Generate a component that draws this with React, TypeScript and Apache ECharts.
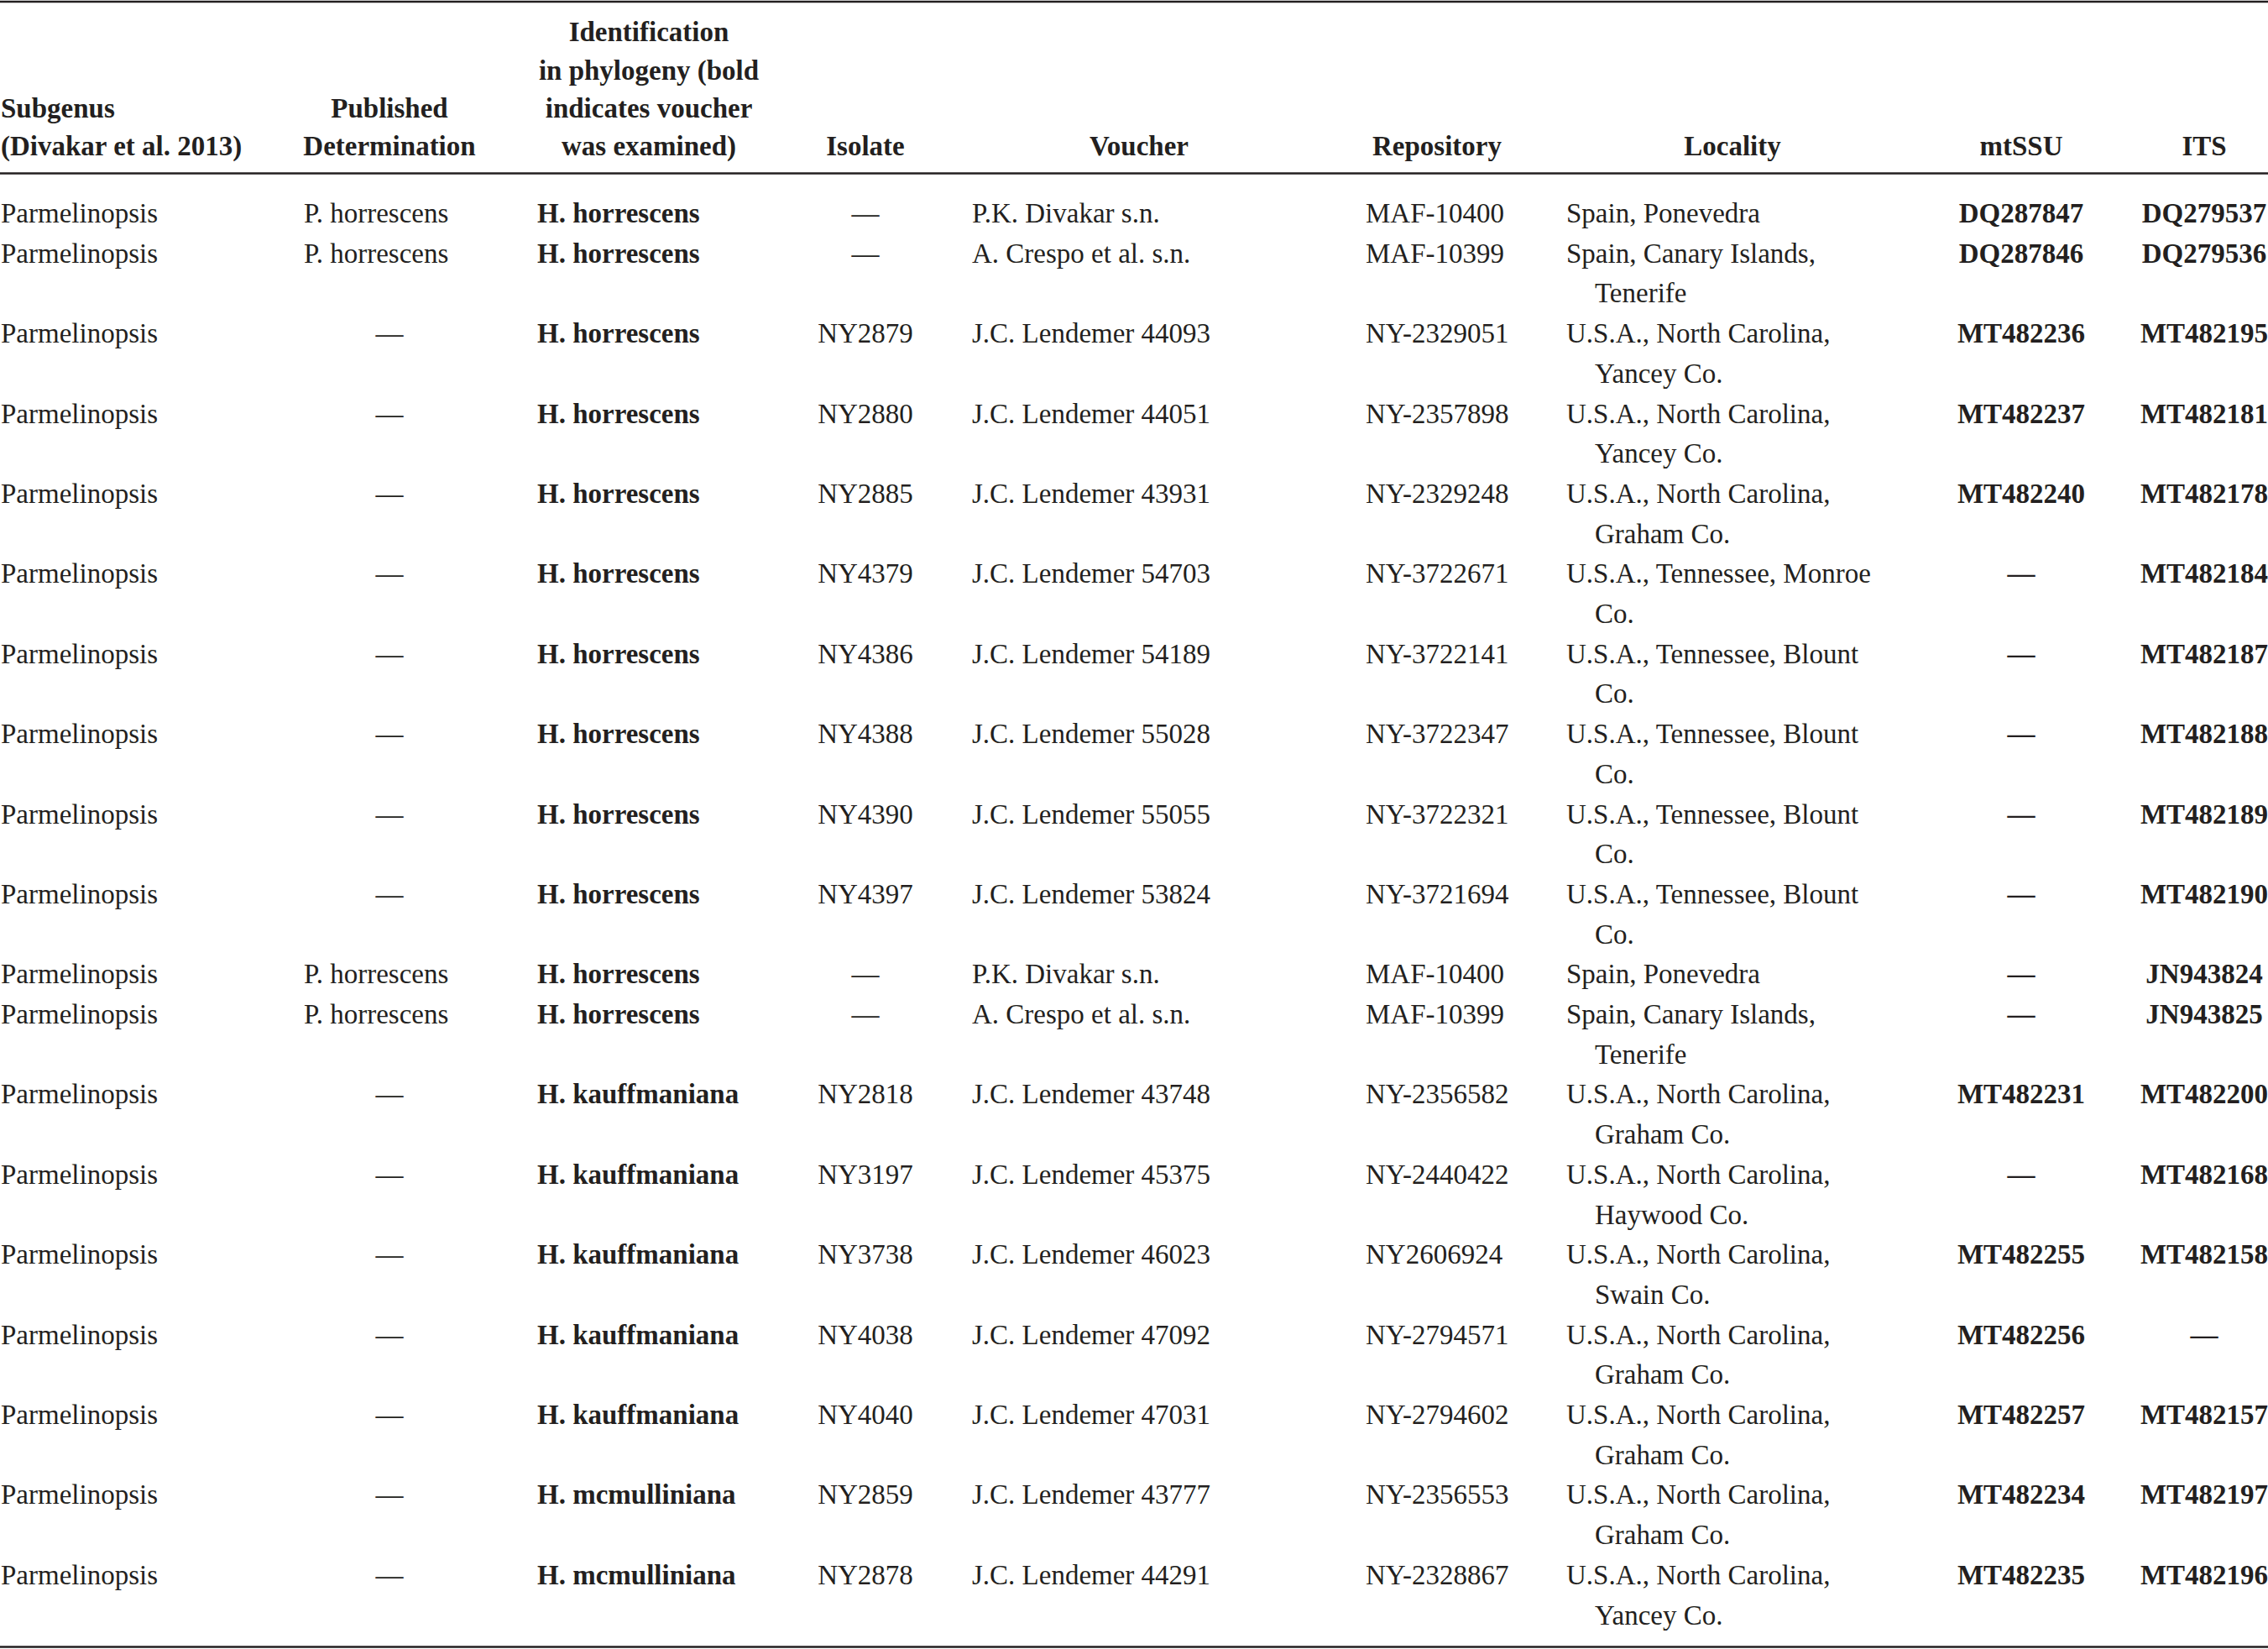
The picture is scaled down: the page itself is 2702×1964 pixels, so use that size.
import React, { useEffect, useRef } from "react";
import * as echarts from "echarts";

const headers = [
  { lines: ["Subgenus", "(Divakar et al. 2013)"], x: 1, align: "left" },
  { lines: ["Published", "Determination"], x: 464, align: "center" },
  { lines: ["Identification", "in phylogeny (bold", "indicates voucher", "was examined)"], x: 773, align: "center" },
  { lines: ["Isolate"], x: 1031, align: "center" },
  { lines: ["Voucher"], x: 1357, align: "center" },
  { lines: ["Repository"], x: 1712, align: "center" },
  { lines: ["Locality"], x: 2064, align: "center" },
  { lines: ["mtSSU"], x: 2408, align: "center" },
  { lines: ["ITS"], x: 2626, align: "center" },
];

const subgenus = Array(19).fill("Parmelinopsis");
const published = [
  "P. horrescens", "P. horrescens", "—", "—", "—", "—", "—", "—", "—", "—",
  "P. horrescens", "P. horrescens", "—", "—", "—", "—", "—", "—", "—",
];
const identification = [
  "H. horrescens", "H. horrescens", "H. horrescens", "H. horrescens", "H. horrescens",
  "H. horrescens", "H. horrescens", "H. horrescens", "H. horrescens", "H. horrescens",
  "H. horrescens", "H. horrescens", "H. kauffmaniana", "H. kauffmaniana", "H. kauffmaniana",
  "H. kauffmaniana", "H. kauffmaniana", "H. mcmulliniana", "H. mcmulliniana",
];
const isolate = [
  "—", "—", "NY2879", "NY2880", "NY2885", "NY4379", "NY4386", "NY4388", "NY4390", "NY4397",
  "—", "—", "NY2818", "NY3197", "NY3738", "NY4038", "NY4040", "NY2859", "NY2878",
];
const voucher = [
  "P.K. Divakar s.n.", "A. Crespo et al. s.n.", "J.C. Lendemer 44093", "J.C. Lendemer 44051",
  "J.C. Lendemer 43931", "J.C. Lendemer 54703", "J.C. Lendemer 54189", "J.C. Lendemer 55028",
  "J.C. Lendemer 55055", "J.C. Lendemer 53824", "P.K. Divakar s.n.", "A. Crespo et al. s.n.",
  "J.C. Lendemer 43748", "J.C. Lendemer 45375", "J.C. Lendemer 46023", "J.C. Lendemer 47092",
  "J.C. Lendemer 47031", "J.C. Lendemer 43777", "J.C. Lendemer 44291",
];
const repository = [
  "MAF-10400", "MAF-10399", "NY-2329051", "NY-2357898", "NY-2329248", "NY-3722671",
  "NY-3722141", "NY-3722347", "NY-3722321", "NY-3721694", "MAF-10400", "MAF-10399",
  "NY-2356582", "NY-2440422", "NY2606924", "NY-2794571", "NY-2794602", "NY-2356553", "NY-2328867",
];
const locality = [
  ["Spain, Ponevedra"],
  ["Spain, Canary Islands,", "Tenerife"],
  ["U.S.A., North Carolina,", "Yancey Co."],
  ["U.S.A., North Carolina,", "Yancey Co."],
  ["U.S.A., North Carolina,", "Graham Co."],
  ["U.S.A., Tennessee, Monroe", "Co."],
  ["U.S.A., Tennessee, Blount", "Co."],
  ["U.S.A., Tennessee, Blount", "Co."],
  ["U.S.A., Tennessee, Blount", "Co."],
  ["U.S.A., Tennessee, Blount", "Co."],
  ["Spain, Ponevedra"],
  ["Spain, Canary Islands,", "Tenerife"],
  ["U.S.A., North Carolina,", "Graham Co."],
  ["U.S.A., North Carolina,", "Haywood Co."],
  ["U.S.A., North Carolina,", "Swain Co."],
  ["U.S.A., North Carolina,", "Graham Co."],
  ["U.S.A., North Carolina,", "Graham Co."],
  ["U.S.A., North Carolina,", "Graham Co."],
  ["U.S.A., North Carolina,", "Yancey Co."],
];
const mtSSU = [
  "DQ287847", "DQ287846", "MT482236", "MT482237", "MT482240", "—", "—", "—", "—", "—",
  "—", "—", "MT482231", "—", "MT482255", "MT482256", "MT482257", "MT482234", "MT482235",
];
const its = [
  "DQ279537", "DQ279536", "MT482195", "MT482181", "MT482178", "MT482184", "MT482187",
  "MT482188", "MT482189", "MT482190", "JN943824", "JN943825", "MT482200", "MT482168",
  "MT482158", "—", "MT482157", "MT482197", "MT482196",
];

const INK = "#231f20";
const FAMILY = '"Liberation Serif", "Times New Roman", serif';
const SIZE = 33;
const LINE = 47.7;
const FIRST_BASELINE = 265;
const HEADER_BASELINES = [49, 95, 140, 185];
const CENTRAL = 11;

function txt(x: number, baseline: number, s: string, align: string, bold: boolean) {
  return {
    type: "text",
    x,
    y: baseline - CENTRAL,
    silent: true,
    style: {
      text: s,
      font: `${bold ? "bold " : ""}${SIZE}px ${FAMILY}`,
      fill: INK,
      textAlign: align,
      textVerticalAlign: "middle",
    },
  };
}

function buildElements() {
  const els: any[] = [];
  const rule = (y: number) => ({
    type: "line",
    silent: true,
    shape: { x1: 0, y1: y, x2: 2702, y2: y },
    style: { stroke: INK, lineWidth: 2.6 },
  });
  els.push(rule(2), rule(206.5), rule(1961.5));

  headers.forEach((h) => {
    const n = h.lines.length;
    h.lines.forEach((ln, i) => {
      const b = HEADER_BASELINES[4 - n + i];
      els.push(txt(h.x, b, ln, h.align, true));
    });
  });

  let lineIdx = 0;
  for (let r = 0; r < subgenus.length; r++) {
    const b = FIRST_BASELINE + lineIdx * LINE;
    els.push(txt(1, b, subgenus[r], "left", false));
    if (published[r] === "—") els.push(txt(464, b, "—", "center", false));
    else els.push(txt(362, b, published[r], "left", false));
    els.push(txt(640, b, identification[r], "left", true));
    els.push(txt(1031, b, isolate[r], "center", false));
    els.push(txt(1158, b, voucher[r], "left", false));
    els.push(txt(1627, b, repository[r], "left", false));
    locality[r].forEach((ln, i) => {
      els.push(txt(i === 0 ? 1866 : 1900, b + i * LINE, ln, "left", false));
    });
    els.push(txt(2408, b, mtSSU[r], "center", true));
    els.push(txt(2626, b, its[r], "center", true));
    lineIdx += locality[r].length;
  }
  return els;
}

export default function App() {
  const ref = useRef<HTMLDivElement>(null);
  useEffect(() => {
    if (!ref.current) return;
    const chart = echarts.init(ref.current, undefined, { renderer: "svg" });
    chart.setOption({
      animation: false,
      backgroundColor: "#ffffff",
      graphic: { elements: buildElements() },
    });
    return () => chart.dispose();
  }, []);
  return (
    <div
      ref={ref}
      style={{ position: "absolute", left: 0, top: 0, width: 2702, height: 1964, background: "#fff" }}
    />
  );
}
